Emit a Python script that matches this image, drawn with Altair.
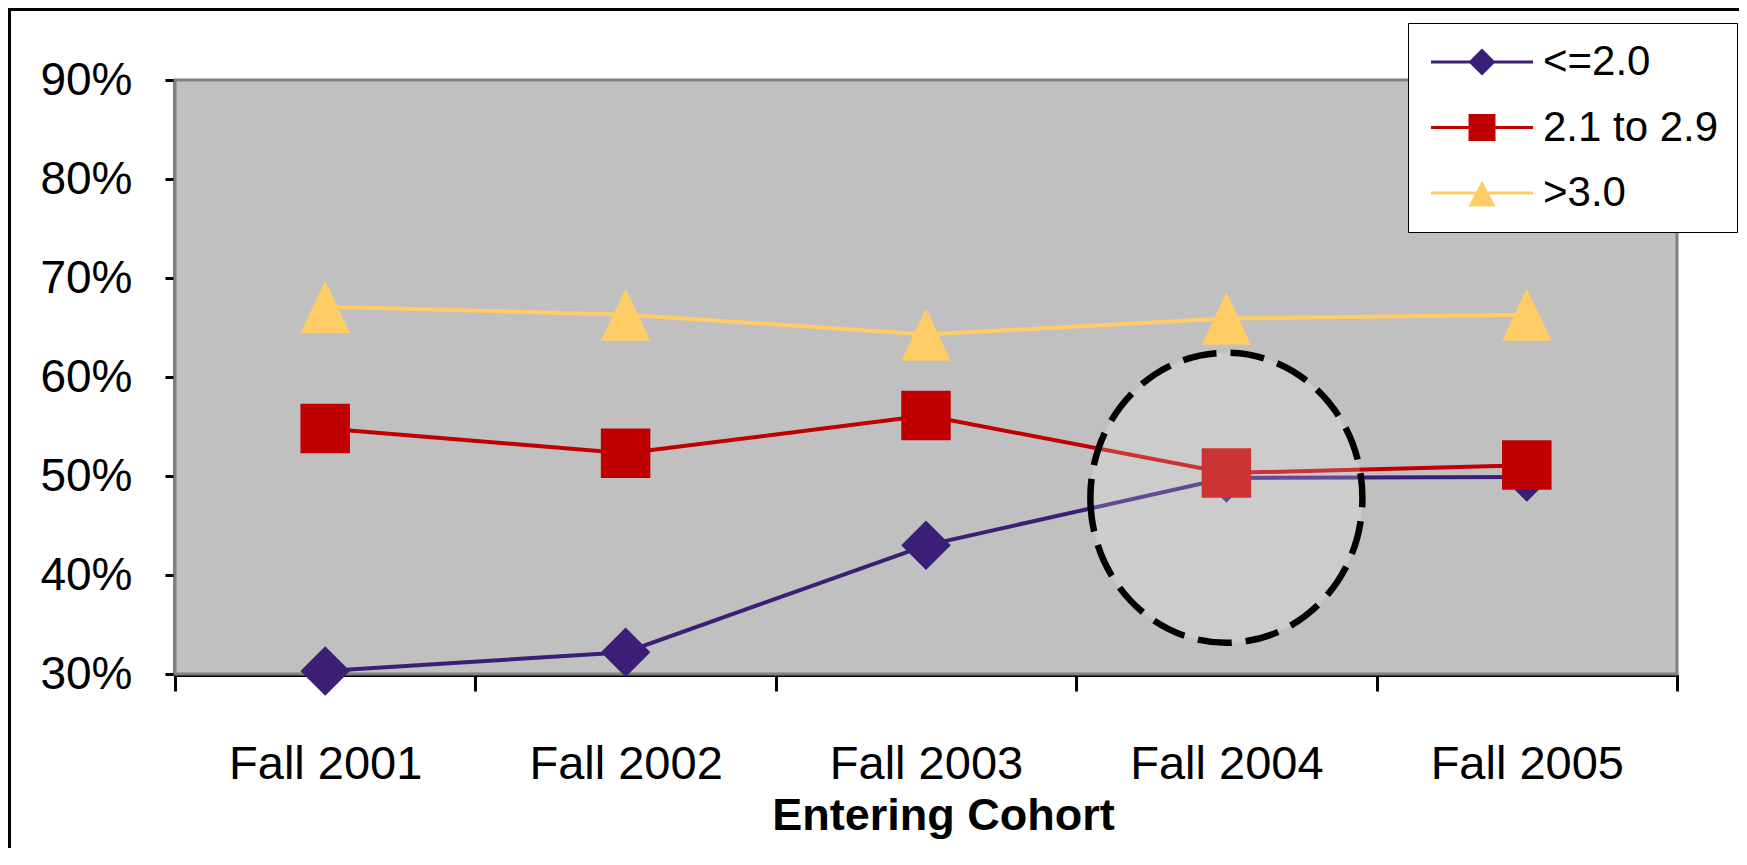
import altair as alt
import pandas as pd

# ---- data ----
cohorts = ["Fall 2001", "Fall 2002", "Fall 2003", "Fall 2004", "Fall 2005"]
series_names = ["<=2.0", "2.1 to 2.9", ">3.0"]
le_2_0 = [0.303, 0.322, 0.430, 0.498, 0.499]
mid_2_1_2_9 = [0.548, 0.523, 0.561, 0.503, 0.511]
gt_3_0 = [0.671, 0.663, 0.643, 0.659, 0.663]
y_ticks = [0.3, 0.4, 0.5, 0.6, 0.7, 0.8, 0.9]

# highlighted region (annotation ellipse)
annot_cohort = ["Fall 2004"]
annot_value = [0.478]

colors = ["#3B1F77", "#C00000", "#FFCC66"]
marker_shapes = ["diamond", "square", "M0,-1.06L1,1.06L-1,1.06Z"]
# legend symbols: line segment + marker
legend_shapes = [
    "M-3.78,-0.11H-0.89L0,-1L0.89,-0.11H3.78V0.11H0.89L0,1L-0.89,0.11H-3.78Z",
    "M-3.78,-0.11H-1V-1H1V-0.11H3.78V0.11H1V1H-1V0.11H-3.78Z",
    "M-3.78,-0.11H-0.416L0,-0.9L0.416,-0.11H3.78V0.11H0.53L1,1H-1L-0.53,0.11H-3.78Z",
]

rows = []
for name, vals in zip(series_names, [le_2_0, mid_2_1_2_9, gt_3_0]):
    for c, v in zip(cohorts, vals):
        rows.append({"cohort": c, "series": name, "value": v})
df = pd.DataFrame(rows)
annot_df = pd.DataFrame({"cohort": annot_cohort, "value": annot_value})

FONT = "Liberation Sans"
PLOT_W, PLOT_H = 1502, 594

x_enc = alt.X(
    "cohort:N",
    sort=cohorts,
    bandPosition=0.5,
    scale=alt.Scale(type="band", paddingInner=0, paddingOuter=0),
    axis=alt.Axis(
        title="Entering Cohort",
        titleFont=FONT,
        titleFontSize=45,
        titleFontWeight="bold",
        titleColor="black",
        titleX=768,
        titleY=155,
        titleBaseline="alphabetic",
        titleAlign="center",
        labelFont=FONT,
        labelFontSize=47,
        labelColor="black",
        labelAngle=0,
        labelLimit=400,
        labelPadding=50,
        tickBand="extent",
        tickSize=17,
        tickWidth=3,
        tickColor="black",
        domainColor="black",
        domainWidth=5,
        grid=False,
    ),
)

y_enc = alt.Y(
    "value:Q",
    scale=alt.Scale(domain=[0.3, 0.9], nice=False, zero=False),
    axis=alt.Axis(
        title=None,
        values=y_ticks,
        format=".0%",
        labelFont=FONT,
        labelFontSize=46,
        labelColor="black",
        labelPadding=33,
        tickSize=10,
        tickWidth=3,
        tickColor="black",
        domainColor="black",
        domainWidth=4,
        grid=True,
        gridColor={"condition": {"test": "datum.value > 0.85", "value": "#808080"}, "value": "black"},
        gridWidth=3,
    ),
)

color_scale = alt.Scale(domain=series_names, range=colors)

legend = alt.Legend(
    title=None,
    orient="none",
    legendX=1233,
    legendY=-57,
    direction="vertical",
    labelFont=FONT,
    labelFontSize=42,
    labelColor="black",
    labelLimit=400,
    symbolSize=729,
    symbolStrokeWidth=0,
    symbolOpacity=1,
    symbolOffset=35,
    labelOffset=40,
    rowPadding=23.5,
    padding=18,
    fillColor="white",
    strokeColor="black",
)

border = alt.Chart(alt.Data(values=[{"a": 1}])).mark_rect(
    fillOpacity=0, stroke="black", strokeWidth=4
).encode(
    x=alt.value(-166), x2=alt.value(1700), y=alt.value(-71), y2=alt.value(900)
)

plot_bg = alt.Chart(alt.Data(values=[{"a": 1}])).mark_rect(
    fill="#c0c0c0", stroke="#808080", strokeWidth=3
).encode(
    x=alt.value(0), x2=alt.value(PLOT_W), y=alt.value(0), y2=alt.value(PLOT_H)
)

lines = alt.Chart(df).mark_line(strokeWidth=4).encode(
    x=x_enc, y=y_enc,
    color=alt.Color("series:N", scale=color_scale, legend=None),
    order=alt.Order("cohort:N"),
)

points = alt.Chart(df).transform_calculate(
    marker="datum.series"
).mark_point(filled=True, size=2450, opacity=1).encode(
    x=x_enc,
    y=y_enc,
    color=alt.Color("series:N", scale=color_scale, legend=None),
    shape=alt.Shape(
        "marker:N",
        scale=alt.Scale(domain=series_names, range=marker_shapes),
        legend=None,
    ),
)

# layer that draws nothing: it only carries the legend (line + marker symbols)
legend_layer = alt.Chart(df).transform_filter("false").mark_point(
    filled=True, size=729, opacity=1
).encode(
    x=x_enc,
    y=y_enc,
    color=alt.Color("series:N", scale=color_scale, legend=legend),
    shape=alt.Shape(
        "series:N",
        scale=alt.Scale(domain=series_names, range=legend_shapes),
        legend=legend,
    ),
)

ellipse = alt.Chart(annot_df).mark_point(
    shape="M-0.938,0A0.938,1,0,1,0,0.938,0A0.938,1,0,1,0,-0.938,0Z",
    size=84100,
    filled=True,
    fill="white",
    fillOpacity=0.2,
    stroke="black",
    strokeOpacity=1,
    strokeWidth=6.5,
    strokeDash=[34, 14],
    opacity=1,
).encode(x=x_enc, y=y_enc)

chart = (
    alt.layer(border, plot_bg, lines, points, ellipse, legend_layer)
    .resolve_scale(color="independent", shape="independent")
    .properties(
        width=PLOT_W,
        height=PLOT_H,
        autosize=alt.AutoSizeParams(type="none"),
        padding={"left": 167, "top": 72, "right": 62, "bottom": 174},
    )
    .configure_view(fill="#c0c0c0", stroke="#808080", strokeWidth=3)
    .configure_legend(strokeWidth=3)
    .configure(font=FONT)
)

chart.save("out.html", embed_options={"renderer": "svg", "actions": False})
